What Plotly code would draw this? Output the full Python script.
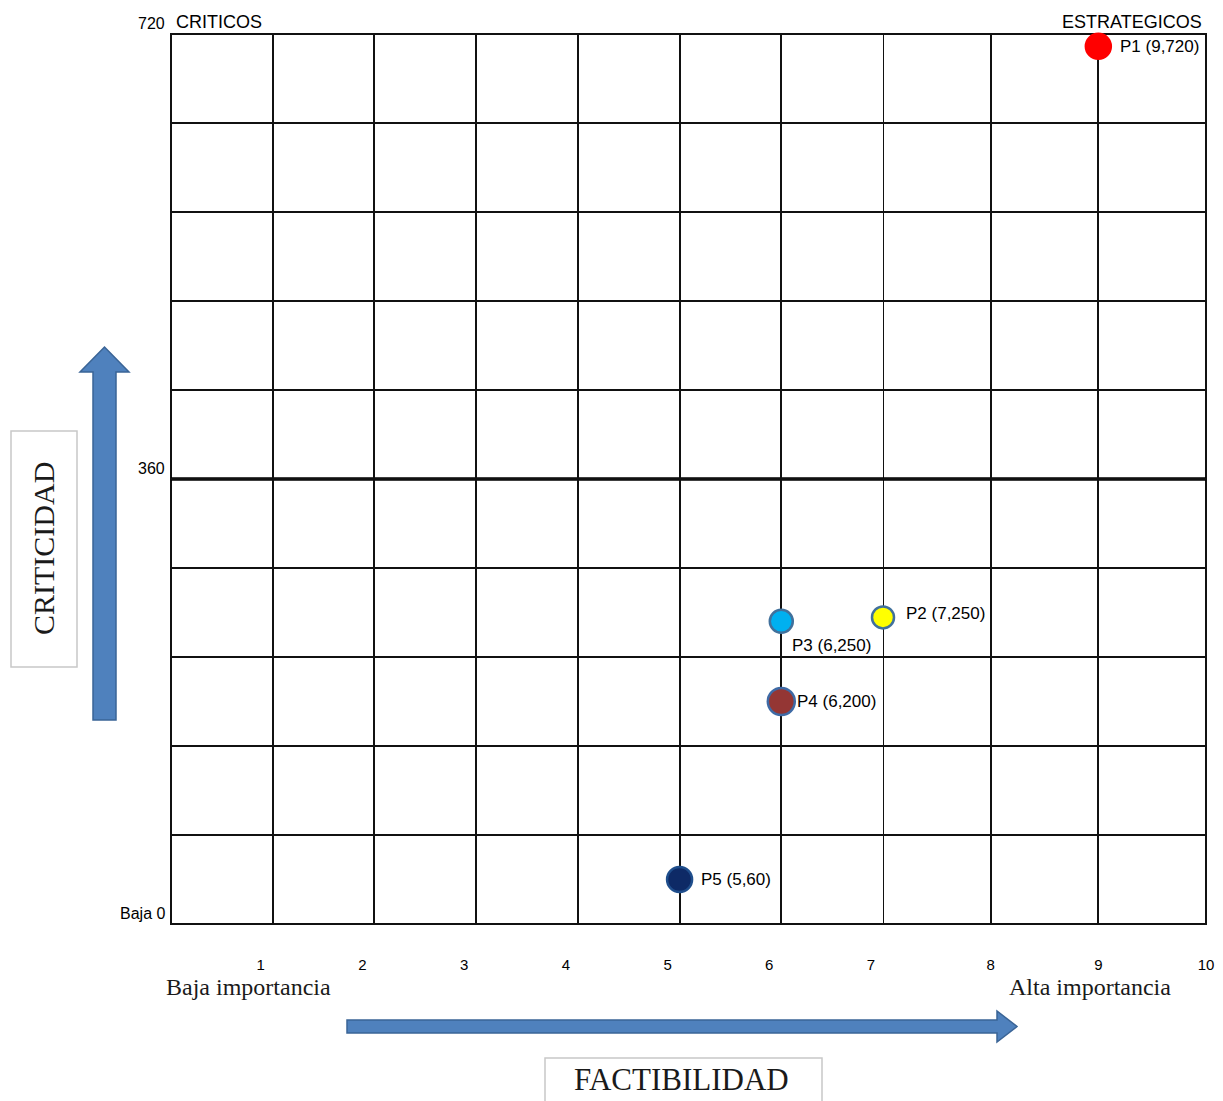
import plotly.graph_objects as go

# ---- data ----
points = ["P1", "P2", "P3", "P4", "P5"]
factibilidad = [9, 7, 6, 6, 5]
criticidad = [710, 248, 245, 180, 36]          # positions as drawn in the picture
point_labels = ["P1 (9,720)", "P2 (7,250)", "P3 (6,250)", "P4 (6,200)", "P5 (5,60)"]
x_ticks_low = [1, 2, 3, 4, 5, 6, 7]
x_ticks_high = [8, 9, 10]
y_marks = [0, 360, 720]
y_mark_text = ["Baja 0", "360", "720"]

# ---- styles ----
fill_colors = ["#FF0000", "#FFFF00", "#00B0F0", "#943634", "#0E2A66"]
line_colors = ["#FF0000", "#41719C", "#41719C", "#3E6AA5", "#1F4E8C"]
sizes = [25, 22, 23, 27, 25]
label_dx = [20, 21, 9, 14, 19]
label_dy = [0, 4, -24, 0, 0]

W, H = 1223, 1101
L, R, T, B = 171, 17, 34, 177
pw, ph = W - L - R, H - T - B

def px(x):  # pixel -> paper x
    return (x - L) / pw

def py(y):  # pixel -> paper y
    return (H - B - y) / ph

split = px(883)   # the source drawing's x scale changes pace at 7

sans = "Liberation Sans, Arial, sans-serif"
serif = "Liberation Serif, Times New Roman, serif"

fig = go.Figure()
low = [i for i, v in enumerate(factibilidad) if v <= 7]
high = [i for i, v in enumerate(factibilidad) if v > 7]
for idx, xa in ((high, "x2"), (low, "x")):
    fig.add_trace(go.Scatter(
        x=[factibilidad[i] for i in idx], y=[criticidad[i] for i in idx],
        xaxis=xa, yaxis="y", mode="markers",
        marker=dict(size=[sizes[i] for i in idx], color=[fill_colors[i] for i in idx],
                    opacity=1,
                    line=dict(color=[line_colors[i] for i in idx], width=2.5)),
        hoverinfo="skip", showlegend=False, cliponaxis=False))

ann = []
for i in range(len(points)):
    xa = "x2" if factibilidad[i] > 7 else "x"
    ann.append(dict(x=factibilidad[i], y=criticidad[i], xref=xa, yref="y",
                    text=point_labels[i], showarrow=False,
                    xanchor="left", yanchor="middle", xshift=label_dx[i], yshift=label_dy[i],
                    font=dict(family=sans, size=17, color="#000")))

for v, t in zip(y_marks, y_mark_text):
    ann.append(dict(x=0, y=v, xref="paper", yref="y", text=t, showarrow=False,
                    xanchor="right", yanchor="bottom", xshift=-4,
                    font=dict(family=sans, size=16, color="#000")))
ann.append(dict(x=0, y=720, xref="paper", yref="y", text="CRITICOS", showarrow=False,
                xanchor="left", yanchor="bottom", xshift=3,
                font=dict(family=sans, size=18, color="#000")))
ann.append(dict(x=1, y=720, xref="paper", yref="y", text="ESTRATEGICOS", showarrow=False,
                xanchor="right", yanchor="bottom", xshift=-2,
                font=dict(family=sans, size=18, color="#000")))

ann.append(dict(x=px(164), y=py(987), xref="paper", yref="paper", text="Baja importancia",
                showarrow=False, xanchor="left", yanchor="middle",
                font=dict(family=serif, size=24, color="#1a1a1a")))
ann.append(dict(x=px(1007), y=py(987), xref="paper", yref="paper", text="Alta importancia",
                showarrow=False, xanchor="left", yanchor="middle",
                font=dict(family=serif, size=24, color="#1a1a1a")))
ann.append(dict(x=px(681), y=py(1079), xref="paper", yref="paper", text="FACTIBILIDAD",
                showarrow=False, xanchor="center", yanchor="middle",
                font=dict(family=serif, size=31, color="#1a1a1a")))
ann.append(dict(x=px(43), y=py(549), xref="paper", yref="paper", text="CRITICIDAD",
                showarrow=False, xanchor="center", yanchor="middle", textangle=-90,
                font=dict(family=serif, size=30, color="#1a1a1a")))

shapes = []
shapes.append(dict(type="rect", xref="paper", yref="paper", x0=0, x1=1, y0=0, y1=1,
                   line=dict(color="#111", width=2), fillcolor="rgba(0,0,0,0)", layer="below"))
# grid line at x = 7 (boundary between the two x scales)
shapes.append(dict(type="line", xref="x2", yref="paper", x0=7, x1=7, y0=0, y1=1,
                   line=dict(color="#111", width=2), layer="below"))
shapes.append(dict(type="line", xref="paper", yref="y", x0=0, x1=1, y0=360, y1=360,
                   line=dict(color="#000", width=3.5), layer="below"))
shapes.append(dict(type="rect", xref="paper", yref="paper",
                   x0=px(11), x1=px(77), y0=py(431), y1=py(667),
                   line=dict(color="#C8C8C8", width=1.5), fillcolor="rgba(0,0,0,0)"))
shapes.append(dict(type="rect", xref="paper", yref="paper",
                   x0=px(545), x1=px(822), y0=py(1058), y1=py(1110),
                   line=dict(color="#C8C8C8", width=1.5), fillcolor="rgba(0,0,0,0)"))

def path(pts):
    return "M " + " L ".join(f"{px(a):.5f},{py(b):.5f}" for a, b in pts) + " Z"

shapes.append(dict(type="path", xref="paper", yref="paper",
                   path=path([(93, 720), (93, 372), (80, 372), (104.5, 347),
                              (129, 372), (116, 372), (116, 720)]),
                   fillcolor="#4F81BD", line=dict(color="#3A6496", width=1.5)))
shapes.append(dict(type="path", xref="paper", yref="paper",
                   path=path([(347, 1020), (997, 1020), (997, 1011), (1017, 1026.5),
                              (997, 1042), (997, 1033), (347, 1033)]),
                   fillcolor="#4F81BD", line=dict(color="#3A6496", width=1.5)))

common_x = dict(showgrid=True, gridcolor="#111", gridwidth=2, showline=False,
                zeroline=False, ticks="", ticklabelstandoff=30, automargin=False,
                tickfont=dict(family=sans, size=15, color="#000"), fixedrange=True,
                anchor="y")

fig.update_layout(
    width=W, height=H,
    margin=dict(l=L, r=R, t=T, b=B, autoexpand=False),
    paper_bgcolor="white", plot_bgcolor="white",
    annotations=ann, shapes=shapes,
    xaxis=dict(domain=[0, split], range=[0, 7], tickvals=x_ticks_low,
               ticktext=[str(v) for v in x_ticks_low], ticklabelshift=-12, **common_x),
    xaxis2=dict(domain=[split, 1], range=[7, 10], tickvals=x_ticks_high,
                ticktext=[str(v) for v in x_ticks_high], ticklabelshift=0, **common_x),
    yaxis=dict(range=[0, 720], dtick=72, tick0=0, anchor="x", automargin=False,
               showgrid=True, gridcolor="#111", gridwidth=2, showline=False,
               zeroline=False, ticks="", showticklabels=False, fixedrange=True),
)

fig.write_html("out.html")
